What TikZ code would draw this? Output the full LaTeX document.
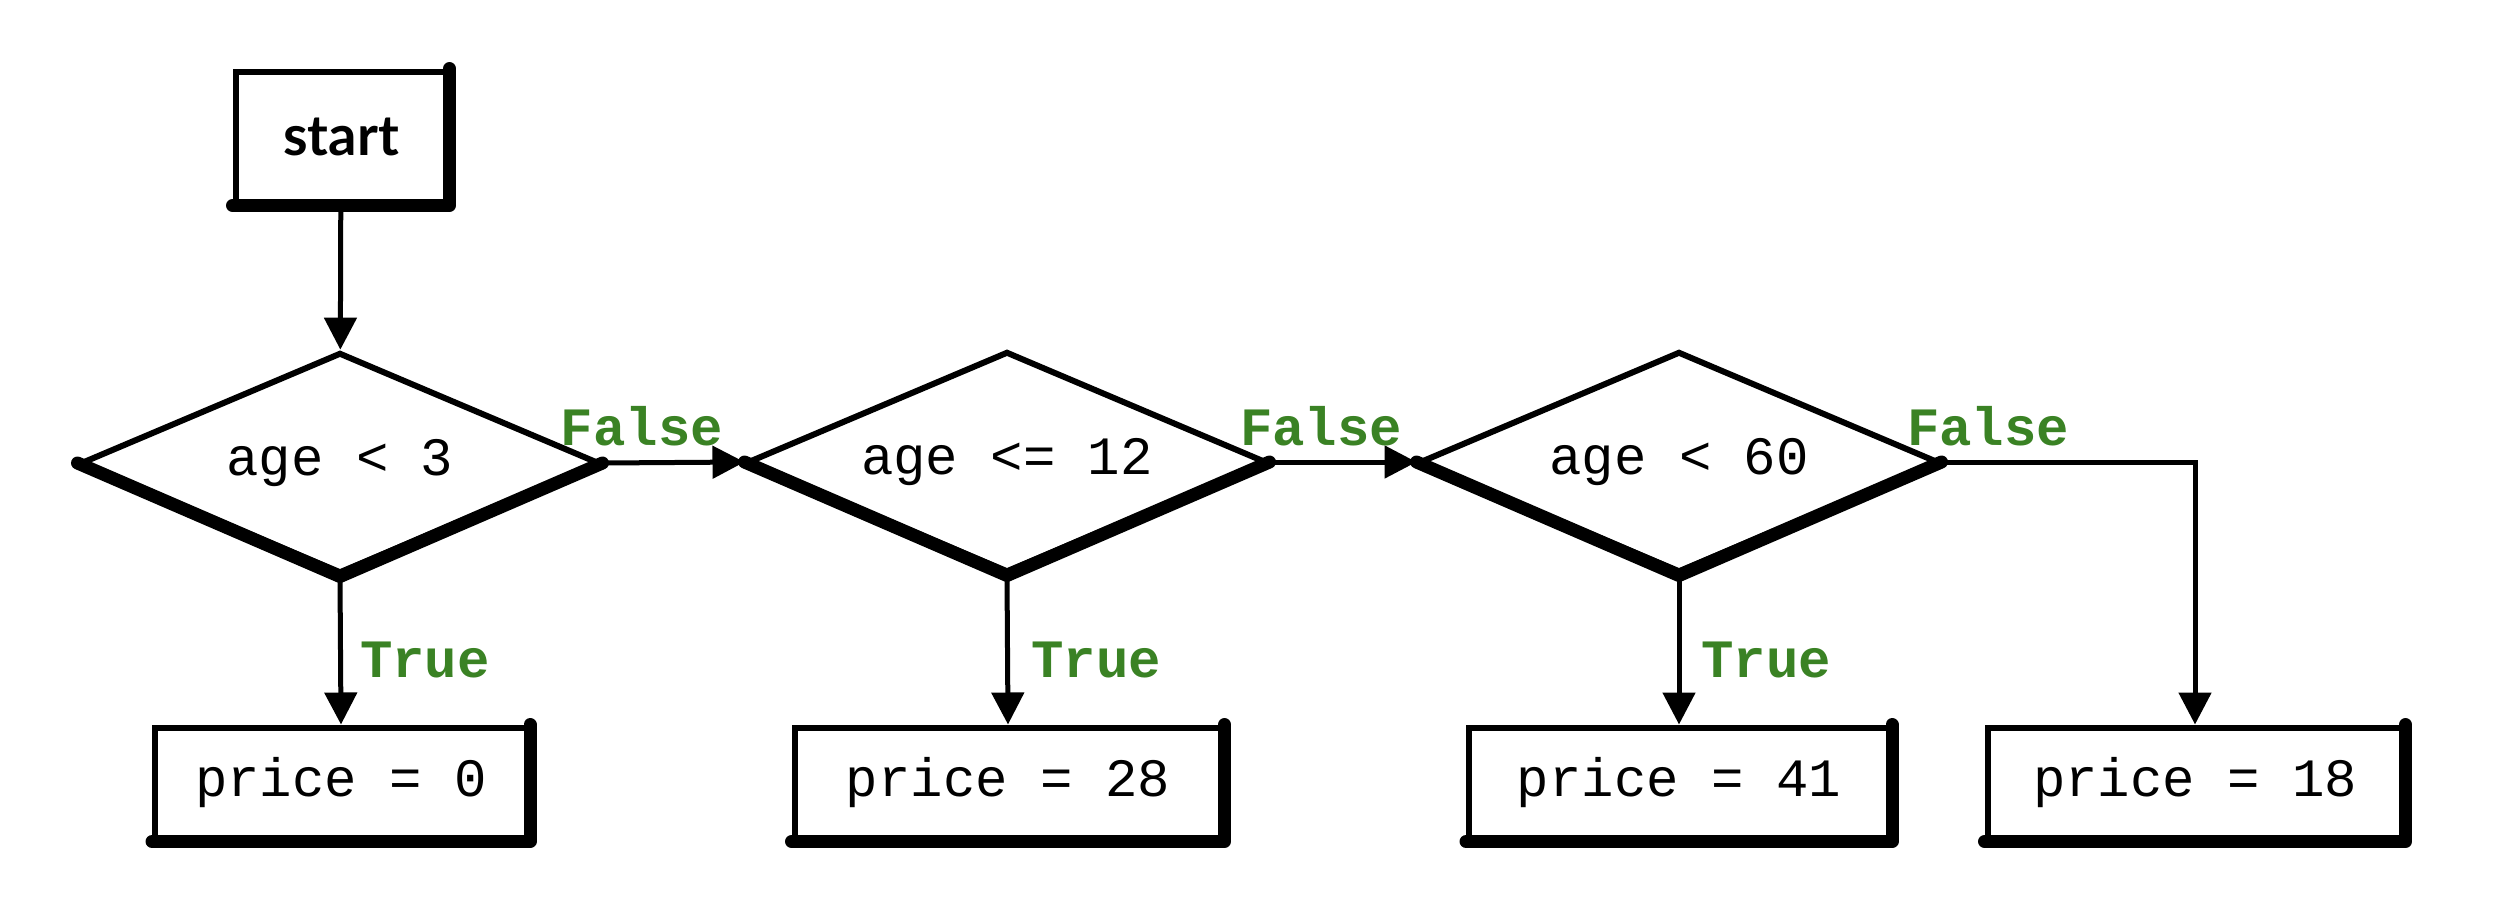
\documentclass[tikz,border=0pt]{standalone}
\usepackage{fontspec}
\setmonofont{Liberation Mono}
\newfontfamily\startfont{Lato}
\usetikzlibrary{shapes.geometric,arrows.meta}
\definecolor{lblgreen}{RGB}{58,130,36}
\tikzset{
  procbox/.style={draw, line width=3pt, minimum height=55.5pt, inner sep=0pt,
    font=\ttfamily\fontsize{27}{30}\selectfont},
  decision/.style={diamond, draw, line width=3pt, aspect=2.35, inner sep=0pt,
    minimum width=259.5pt, minimum height=110.5pt,
    font=\ttfamily\fontsize{27}{30}\selectfont},
  heavy/.style={line width=6.5pt, line join=round, line cap=round},
  arr/.style={line width=2.5pt, -{Triangle[length=16pt,width=16pt]}},
  lbl/.style={text=lblgreen, font=\ttfamily\bfseries\fontsize{27}{30}\selectfont, inner sep=0pt},
}
\begin{document}
\begin{tikzpicture}[x=0.5pt,y=-0.5pt]
\useasboundingbox (0,0) rectangle (2504,916);
% start
\node[draw, line width=3pt, minimum width=105.5pt, minimum height=65.5pt, inner sep=0pt,
  font=\startfont\bfseries\fontsize{28}{32}\selectfont] (start) at (341,137) {start};
\draw[heavy] (start.south west) -- (start.south east) -- (start.north east);
% decisions
\node[decision] (d1) at (340,463) {age < 3};
\node[decision] (d2) at (1007,462) {age <= 12};
\node[decision] (d3) at (1679,462) {age < 60};
\foreach \d in {d1,d2,d3}{
  \draw[heavy] (\d.west) -- (\d.south) -- (\d.east);
}
% result boxes
\node[procbox, minimum width=186pt] (p0) at (341,783) {price = 0};
\node[procbox, minimum width=213.5pt] (p28) at (1008,783) {price = 28};
\node[procbox, minimum width=210pt] (p41) at (1679,783) {price = 41};
\node[procbox, minimum width=207.5pt] (p18) at (2195,783) {price = 18};
\foreach \p in {p0,p28,p41,p18}{
  \draw[heavy] (\p.south west) -- (\p.south east) -- (\p.north east);
}
% connectors
\draw[arr] (start) -- (d1);
\draw[arr] (d1.south) -- (p0.north);
\draw[arr] (d2.south) -- (p28.north);
\draw[arr] (d3.south) -- (p41.north);
\draw[arr] (d1.east) -- (d2.west);
\draw[arr] (d2.east) -- (d3.west);
\draw[arr] (d3.east) -| (p18.north);
% labels
\node[lbl] (f1) at (642,426) {False};
\node[lbl] (f2) at (1321,426) {False};
\node[lbl] (f3) at (1988,426) {False};
\node[lbl] (t1) at (425,660) {True};
\node[lbl] (t2) at (1096,660) {True};
\node[lbl] (t3) at (1766,660) {True};
\end{tikzpicture}
\end{document}
